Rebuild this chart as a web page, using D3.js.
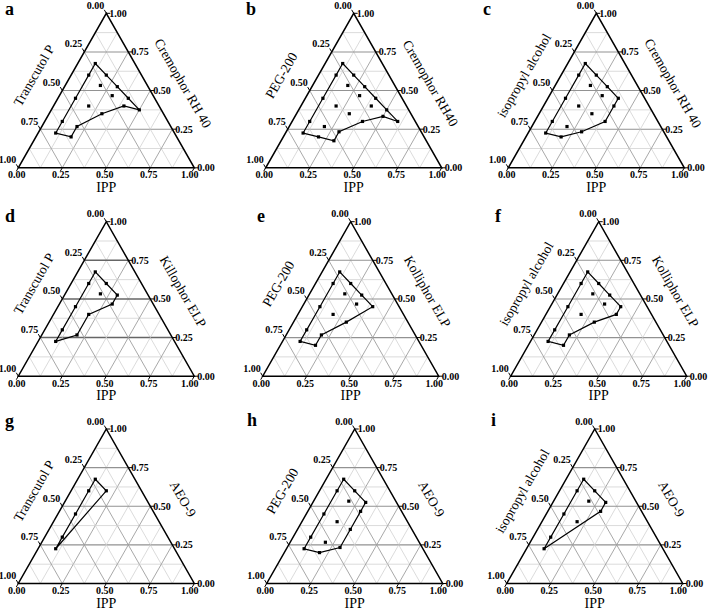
<!DOCTYPE html>
<html>
<head>
<meta charset="utf-8">
<script src="https://cdn.jsdelivr.net/npm/d3@7"></script>
<style>
  html, body { margin: 0; padding: 0; background: #fff; }
  svg { display: block; }
  text { font-family: "Liberation Serif", "Times New Roman", serif; fill: #000; }
</style>
</head>
<body>
<svg id="chart" width="708" height="611"></svg>
<script>
// ---------- data (ternary fractions: [IPP, surfactant]; cosurfactant = 1 - IPP - surfactant) ----------
const panelLetters = ["a", "b", "c", "d", "e", "f", "g", "h", "i"];
const leftTitles = ["Transcutol P", "PEG-200", "isopropyl alcohol",
                    "Transcutol P", "PEG-200", "isopropyl alcohol",
                    "Transcutol P", "PEG-200", "isopropyl alcohol"];
const rightTitles = ["Cremophor RH 40", "Cremophor RH40", "Cremophor RH 40",
                     "Killophor ELP", "Kolliphor ELP", "Kolliphor ELP",
                     "AEO-9", "AEO-9", "AEO-9"];
const bottomTitle = "IPP";
const tickValues = [0, 0.25, 0.5, 0.75, 1];
const tickLabels = ["0.00", "0.25", "0.50", "0.75", "1.00"];

const boundaryA = [[0.1,0.675],[0.2,0.6],[0.3,0.525],[0.4,0.45],[0.5,0.375],[0.4,0.4],[0.3,0.35],[0.2,0.267],[0.2,0.2],[0.1,0.225],[0.1,0.3],[0.1,0.45],[0.1,0.6]];
const interiorA = [[0.2,0.533],[0.3,0.467],[0.2,0.4]];
const boundaryB = [[0.1,0.675],[0.2,0.6],[0.3,0.525],[0.4,0.45],[0.5,0.375],[0.6,0.3],[0.5,0.333],[0.4,0.3],[0.3,0.233],[0.3,0.175],[0.2,0.2],[0.1,0.225],[0.1,0.3],[0.1,0.45],[0.1,0.6]];
const interiorB = [[0.2,0.533],[0.3,0.467],[0.2,0.4],[0.4,0.4],[0.3,0.35],[0.2,0.267]];
const boundaryC = [[0.1,0.675],[0.2,0.6],[0.3,0.525],[0.4,0.45],[0.4,0.4],[0.4,0.3],[0.3,0.233],[0.2,0.2],[0.1,0.225],[0.1,0.3],[0.1,0.45],[0.1,0.6]];
const interiorC = [[0.2,0.533],[0.3,0.467],[0.2,0.4],[0.3,0.35],[0.2,0.267]];
const boundaryD = [[0.1,0.675],[0.2,0.6],[0.3,0.525],[0.3,0.467],[0.2,0.4],[0.2,0.267],[0.1,0.225],[0.1,0.3],[0.1,0.45],[0.1,0.6]];
const interiorD = [[0.2,0.533]];
const boundaryE = [[0.1,0.675],[0.2,0.6],[0.3,0.525],[0.4,0.45],[0.3,0.35],[0.2,0.267],[0.2,0.2],[0.1,0.225],[0.1,0.3],[0.1,0.45],[0.1,0.6]];
const interiorE = [[0.2,0.533],[0.3,0.467],[0.2,0.4]];
const boundaryF = [[0.1,0.675],[0.2,0.6],[0.3,0.525],[0.4,0.45],[0.4,0.4],[0.3,0.35],[0.2,0.267],[0.2,0.2],[0.1,0.225],[0.1,0.3],[0.1,0.45],[0.1,0.6]];
const interiorF = [[0.2,0.533],[0.3,0.467],[0.2,0.4]];
const boundaryG = [[0.1,0.675],[0.2,0.6],[0.1,0.225],[0.1,0.3],[0.1,0.45],[0.1,0.6]];
const interiorG = [];
const boundaryH = [[0.1,0.675],[0.2,0.6],[0.3,0.525],[0.3,0.467],[0.3,0.35],[0.3,0.233],[0.2,0.2],[0.1,0.225],[0.1,0.3],[0.1,0.45],[0.1,0.6]];
const interiorH = [[0.2,0.533],[0.2,0.4],[0.2,0.267]];
const boundaryI = [[0.1,0.675],[0.2,0.6],[0.3,0.525],[0.3,0.467],[0.1,0.225],[0.1,0.3],[0.1,0.45],[0.1,0.6]];
const interiorI = [[0.2,0.533],[0.2,0.4]];

const boundaries = [boundaryA, boundaryB, boundaryC, boundaryD, boundaryE, boundaryF, boundaryG, boundaryH, boundaryI];
const interiors = [interiorA, interiorB, interiorC, interiorD, interiorE, interiorF, interiorG, interiorH, interiorI];

// ---------- layout ----------
const panelOrigins = [ // bottom-left corner x, apex y
  [18.3, 13.3], [265.7, 13.3], [508.3, 13.3],
  [18.3, 221.7], [262.7, 221.7], [510.7, 221.7],
  [18.3, 429], [266.7, 429], [506.7, 429]
];
const letterPos = [[5, 15], [246, 15], [483, 15], [5, 222], [257, 222], [495, 222], [5, 427], [247, 426], [491, 426]];
const W = 176, H = 154.5;

const svg = d3.select("#chart");
svg.append("rect").attr("width", 708).attr("height", 611).attr("fill", "#fff");

panelLetters.forEach((letter, p) => {
  const [ox, oy] = panelOrigins[p];
  const g = svg.append("g").attr("transform", `translate(${ox},${oy})`);
  const xs = d3.scaleLinear().domain([0, 1]).range([0, W]);   // horizontal position
  const ys = d3.scaleLinear().domain([0, 1]).range([H, 0]);   // surfactant fraction
  const px = (ipp, s) => xs(ipp + s / 2);
  const py = (ipp, s) => ys(s);
  const pt = d => [px(d[0], d[1]), py(d[0], d[1])];

  // grid
  const gridG = g.append("g");
  const steps = d3.range(1, 8).map(k => k / 8);
  steps.forEach((v, idx) => {
    const major = (idx % 2 === 1);
    // constant surfactant (horizontal)
    gridG.append("line")
      .attr("x1", px(0, v)).attr("y1", py(0, v)).attr("x2", px(1 - v, v)).attr("y2", py(1 - v, v))
      .attr("stroke", major ? (p === 3 ? "#666" : "#929292") : "#cfcfcf")
      .attr("stroke-width", major ? (p === 3 ? 1.5 : 1.1) : 0.75);
    // constant IPP
    gridG.append("line")
      .attr("x1", px(v, 0)).attr("y1", py(v, 0)).attr("x2", px(v, 1 - v)).attr("y2", py(v, 1 - v))
      .attr("stroke", major ? "#9e9e9e" : "#cfcfcf").attr("stroke-width", major ? 0.9 : 0.75);
    // constant cosurfactant
    gridG.append("line")
      .attr("x1", px(1 - v, 0)).attr("y1", py(1 - v, 0)).attr("x2", px(0, 1 - v)).attr("y2", py(0, 1 - v))
      .attr("stroke", major ? "#9e9e9e" : "#cfcfcf").attr("stroke-width", major ? 0.9 : 0.75);
  });

  // frame
  g.append("path")
    .attr("d", d3.line()([[px(0, 0), py(0, 0)], [px(1, 0), py(1, 0)], [px(0, 1), py(0, 1)]]) + "Z")
    .attr("fill", "none").attr("stroke", "#000").attr("stroke-width", 1.5).attr("stroke-linejoin", "miter");

  // ticks + labels
  const tl = 4, c60 = 0.5, s60 = 0.866;
  tickValues.forEach((v, k) => {
    // left axis (cosurfactant: 0 at apex, 1 at bottom-left)
    const lx = px(0, 1 - v), ly = py(0, 1 - v);
    g.append("line").attr("x1", lx).attr("y1", ly).attr("x2", lx - tl * c60).attr("y2", ly - tl * s60)
      .attr("stroke", "#000").attr("stroke-width", 1);
    g.append("text").attr("x", lx - 2).attr("y", ly - 4.5).attr("text-anchor", "end")
      .attr("font-size", 10).attr("font-weight", "bold").text(tickLabels[k]);
    // right axis (surfactant: 1 at apex, 0 at bottom-right)
    const rx = px(1 - v, v), ry = py(1 - v, v);
    g.append("line").attr("x1", rx).attr("y1", ry).attr("x2", rx + tl).attr("y2", ry)
      .attr("stroke", "#000").attr("stroke-width", 1);
    g.append("text").attr("x", rx + 3).attr("y", ry + 3.4).attr("text-anchor", "start")
      .attr("font-size", 10).attr("font-weight", "bold").text(tickLabels[k]);
    // bottom axis (IPP: 0 at left, 1 at right)
    const bx = px(v, 0), by = py(v, 0);
    g.append("line").attr("x1", bx).attr("y1", by).attr("x2", bx - tl * c60).attr("y2", by + tl * s60)
      .attr("stroke", "#000").attr("stroke-width", 1);
    g.append("text").attr("x", bx - 1.5 - (k === 4 ? 3 : 0)).attr("y", by + 10.7).attr("text-anchor", "middle")
      .attr("font-size", 10).attr("font-weight", "bold").text(tickLabels[k]);
  });

  // axis titles
  g.append("text").attr("x", xs(0.5)).attr("y", H + 24).attr("text-anchor", "middle")
    .attr("font-size", 14).text(bottomTitle);
  const lm = [(px(0, 0) + px(0, 1)) / 2, (py(0, 0) + py(0, 1)) / 2];
  const lc = [lm[0] - 32 * 0.866 - 1 * 0.5, lm[1] - 32 * 0.5 + 1 * 0.866];
  g.append("text").attr("transform", `translate(${lc[0]},${lc[1]}) rotate(-60)`)
    .attr("text-anchor", "middle").attr("dominant-baseline", "central")
    .attr("font-size", 13.5).text(leftTitles[p]);
  const rm = [(px(1, 0) + px(0, 1)) / 2, (py(1, 0) + py(0, 1)) / 2];
  const rc = [rm[0] + 32 * 0.866 + 10 * 0.5, rm[1] - 32 * 0.5 + 10 * 0.866];
  g.append("text").attr("transform", `translate(${rc[0]},${rc[1]}) rotate(60)`)
    .attr("text-anchor", "middle").attr("dominant-baseline", "central")
    .attr("font-size", 13.5).text(rightTitles[p]);

  // boundary line
  g.append("path")
    .attr("d", d3.line()(boundaries[p].map(pt)) + "Z")
    .attr("fill", "none").attr("stroke", "#000").attr("stroke-width", 1.2).attr("stroke-linejoin", "miter");

  // markers
  const allPts = boundaries[p].concat(interiors[p]);
  g.selectAll("rect.pt").data(allPts).enter().append("rect").attr("class", "pt")
    .attr("x", d => pt(d)[0] - 1.6).attr("y", d => pt(d)[1] - 1.6)
    .attr("width", 3.2).attr("height", 3.2).attr("fill", "#000");

  // panel letter
  svg.append("text").attr("x", letterPos[p][0]).attr("y", letterPos[p][1])
    .attr("font-size", 18).attr("font-weight", "bold").text(letter);
});
</script>
</body>
</html>
